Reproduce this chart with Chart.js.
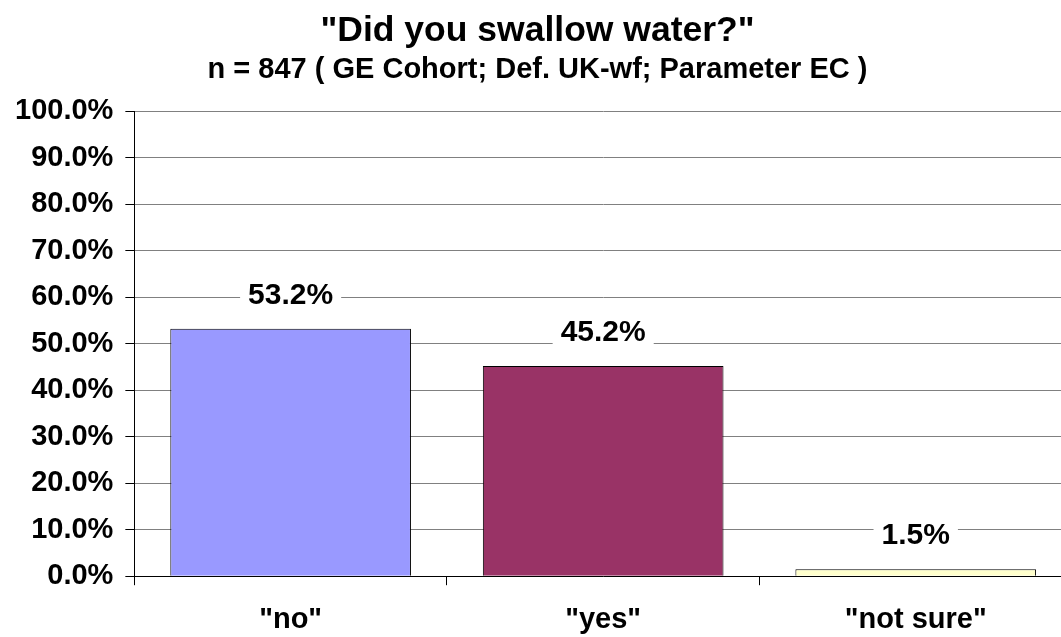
<!DOCTYPE html>
<html>
<head>
<meta charset="utf-8">
<script src="https://cdn.jsdelivr.net/npm/chart.js@4"></script>
<style>
  html, body { margin: 0; padding: 0; background: #fff; overflow: hidden; }
  #wrap { width: 1072px; height: 655px; }
</style>
</head>
<body>
<div id="wrap"><canvas id="chart"></canvas></div>
<script>
var categories = ['"no"', '"yes"', '"not sure"'];
var shares = [53.2, 45.2, 1.5];
var barColors = ['#9999ff', '#993366', '#ffffcc'];
var yTicks = [0, 10, 20, 30, 40, 50, 60, 70, 80, 90, 100];

var FONT = '"Liberation Sans", Arial, sans-serif';

// value labels sitting on white boxes above each bar
var valueLabels = {
    id: 'valueLabels',
    afterDatasetsDraw: function (chart) {
        var ctx = chart.ctx;
        var meta = chart.getDatasetMeta(0);
        ctx.save();
        ctx.font = 'bold 30px ' + FONT;
        ctx.textAlign = 'center';
        ctx.textBaseline = 'middle';
        meta.data.forEach(function (bar, i) {
            var txt = shares[i].toFixed(1) + '%';
            var w = ctx.measureText(txt).width;
            var y = bar.y - 35;
            ctx.fillStyle = '#fff';
            ctx.fillRect(bar.x - w / 2 - 8, y - 16, w + 16, 32);
            ctx.fillStyle = '#000';
            ctx.fillText(txt, bar.x, y + 2);
        });
        ctx.restore();
    }
};

new Chart(document.getElementById('chart').getContext('2d'), {
    type: 'bar',
    data: {
        labels: categories,
        datasets: [{
            data: shares,
            backgroundColor: barColors,
            borderColor: '#000',
            borderWidth: 1,
            barPercentage: 0.77,
            categoryPercentage: 1
        }]
    },
    options: {
        responsive: true,
        maintainAspectRatio: false,
        animation: false,
        layout: { padding: { left: 3, right: 0, top: 0, bottom: 1 } },
        plugins: {
            legend: { display: false },
            tooltip: { enabled: false },
            title: {
                display: true,
                text: '"Did you swallow water?"',
                color: '#000',
                font: { family: FONT, size: 35.5, weight: 'bold', lineHeight: 1 },
                padding: { top: 13, bottom: 6.5 }
            },
            subtitle: {
                display: true,
                text: 'n = 847 ( GE Cohort; Def. UK-wf; Parameter EC )',
                color: '#000',
                font: { family: FONT, size: 29, weight: 'bold', lineHeight: 1 },
                padding: { top: 0, bottom: 27 }
            }
        },
        scales: {
            x: {
                grid: {
                    offset: true,
                    drawOnChartArea: false,
                    drawTicks: true,
                    tickLength: 9,
                    color: '#000'
                },
                border: { display: true, color: '#000', width: 1 },
                ticks: {
                    color: '#000',
                    padding: 17,
                    font: { family: FONT, size: 29, weight: 'bold' }
                }
            },
            y: {
                min: 0,
                max: 100,
                afterBuildTicks: function (axis) {
                    axis.ticks = yTicks.map(function (v) { return { value: v }; });
                },
                grid: {
                    color: '#808080',
                    tickColor: '#000',
                    tickLength: 9
                },
                border: { display: true, color: '#000', width: 1 },
                ticks: {
                    color: '#000',
                    padding: 12,
                    font: { family: FONT, size: 29, weight: 'bold' },
                    callback: function (v) { return v.toFixed(1) + '%'; }
                }
            }
        }
    },
    plugins: [valueLabels]
});
</script>
</body>
</html>
